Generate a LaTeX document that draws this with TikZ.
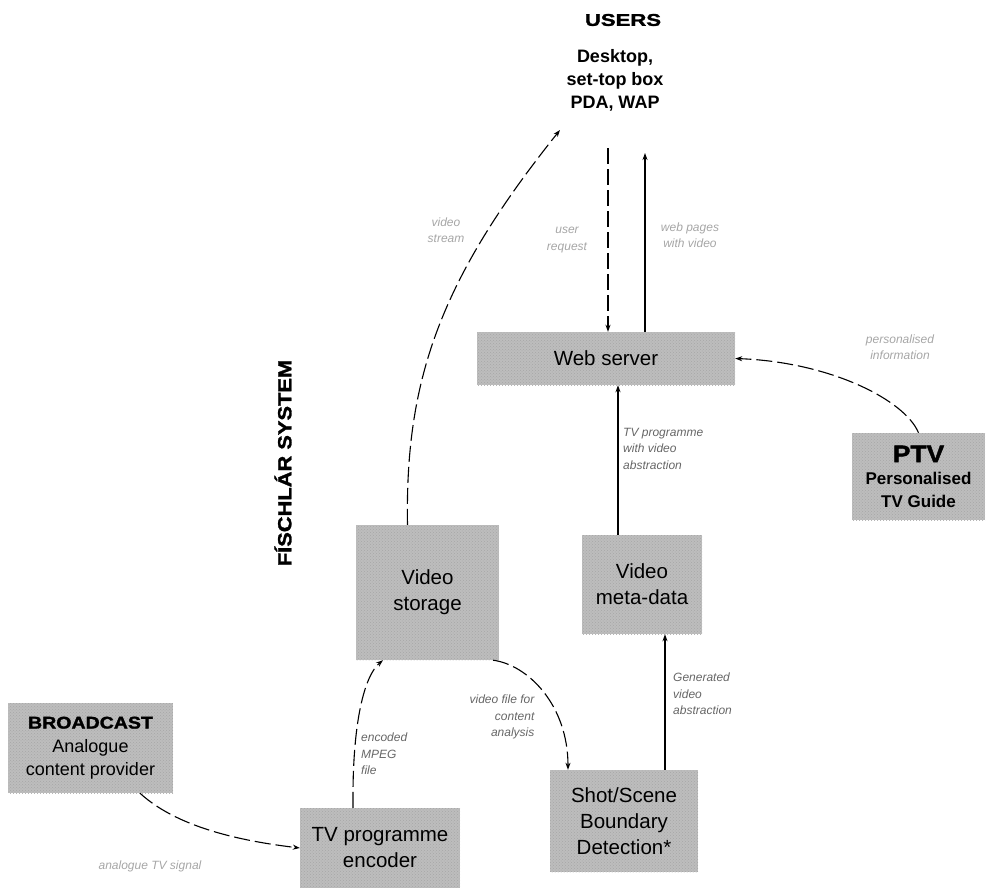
\documentclass[tikz,border=0pt]{standalone}
\usepackage{fontspec}
\setmainfont{Liberation Sans}
\newfontfamily\heavyfont[FakeBold=1.5]{Liberation Sans Bold}
\usetikzlibrary{arrows.meta,patterns}
\newcommand\heavytxt[3]{\scalebox{#1}[1]{\heavyfont\fontsize{#2}{#2}\selectfont #3}}
\tikzset{
  box/.style={fill=black!26, postaction={pattern=crosshatch dots, pattern color=black!35},
    inner sep=0pt, align=center, font=\fontsize{20.5}{26}\selectfont},
  conn/.style={line width=1.1pt, -{Stealth[length=7pt,width=5pt]}},
  brk/.style={dash pattern=on 16pt off 5pt},
  lbl/.style={inner sep=0pt, align=left, text=black!60, font=\itshape\fontsize{12}{16.5}\selectfont},
  faint/.style={lbl, text=black!35, align=center}
}
\begin{document}
\begin{tikzpicture}[x=1pt,y=-1pt]
\useasboundingbox (0,0) rectangle (987,888);

% title nodes
\node[inner sep=0pt] (users) at (623,20) {\heavytxt{1.3}{17}{USERS}};
\node[inner sep=0pt, align=center, font=\bfseries\fontsize{18}{23}\selectfont] (devices) at (615,80) {Desktop,\\set-top box\\PDA, WAP};
\node[inner sep=0pt, rotate=90] (fischlar) at (283,463) {\heavytxt{1.15}{19}{FÍSCHLÁR SYSTEM}};

% boxes
\node[box, minimum width=258, minimum height=53] (web) at (606,358.5) {Web server};
\node[box, minimum width=143, minimum height=135] (storage) at (427.5,592.5) {Video\\storage};
\node[box, minimum width=120, minimum height=99] (meta) at (642,584.5) {Video\\meta-data};
\node[box, minimum width=133, minimum height=87] (ptv) at (918.5,476.5) {\heavytxt{1.1}{24}{PTV}\\[-4pt]\textbf{\fontsize{17}{22}\selectfont Personalised}\\[-3pt]\textbf{\fontsize{17}{22}\selectfont TV Guide}};
\node[box, minimum width=148, minimum height=102] (shot) at (624,821) {Shot/Scene\\Boundary\\Detection*};
\node[box, minimum width=160, minimum height=80] (enc) at (380,848) {TV programme\\encoder};
\node[box, minimum width=165, minimum height=90] (bc) at (90.5,748) {\heavytxt{1.15}{17}{BROADCAST}\\[-2pt]\fontsize{18}{26}\selectfont Analogue\\[-3pt]\fontsize{18}{26}\selectfont content provider};

% free ends
\coordinate (u0) at (560,130);
\coordinate (u1) at (608,148);
\coordinate (u2) at (645,153);

% connectors
\draw[conn, brk] (u1) -- (web.north -| u1);
\draw[conn] (web.north -| u2) -- (u2);
\draw[conn, brk] ([xshift=-20pt]storage.north) .. controls (405,380) and (440,280) .. (u0);
\draw[conn] (meta.north -| 618,0) -- (web.south -| 618,0);
\draw[conn, brk] (ptv.north) .. controls (905,400) and (830,362) .. (web.east);
\draw[conn, brk] (enc.north -| 353,0) .. controls (352,720) and (365,675) .. (storage.south -| 383,0);
\draw[conn, brk] ([xshift=-6pt]storage.south east) .. controls (528,665) and (568,705) .. (shot.north -| 568,0);
\draw[conn] (shot.north -| 665,0) -- (meta.south -| 665,0);
\draw[conn, brk] (bc.south -| 140,0) .. controls (180,830) and (250,842) .. (enc.west);

% labels
\node[lbl, anchor=north west] (l1) at (623,428) {TV programme\\with video\\abstraction};
\node[lbl, anchor=north west] (l2) at (673,673) {Generated\\video\\abstraction};
\node[lbl, anchor=north west] (l3) at (361,733) {encoded\\MPEG\\file};
\node[lbl, align=right] (l4) at (502,717) {video file for\\content\\analysis};
\node[faint] (l5) at (900,347) {personalised\\information};
\node[faint] (l6) at (446,230) {video\\stream};
\node[faint] (l7) at (567,240) {user\\request};
\node[faint] (l8) at (690,235) {web pages\\with video};
\node[faint] (l9) at (150,866) {analogue TV signal};
\end{tikzpicture}
\end{document}
